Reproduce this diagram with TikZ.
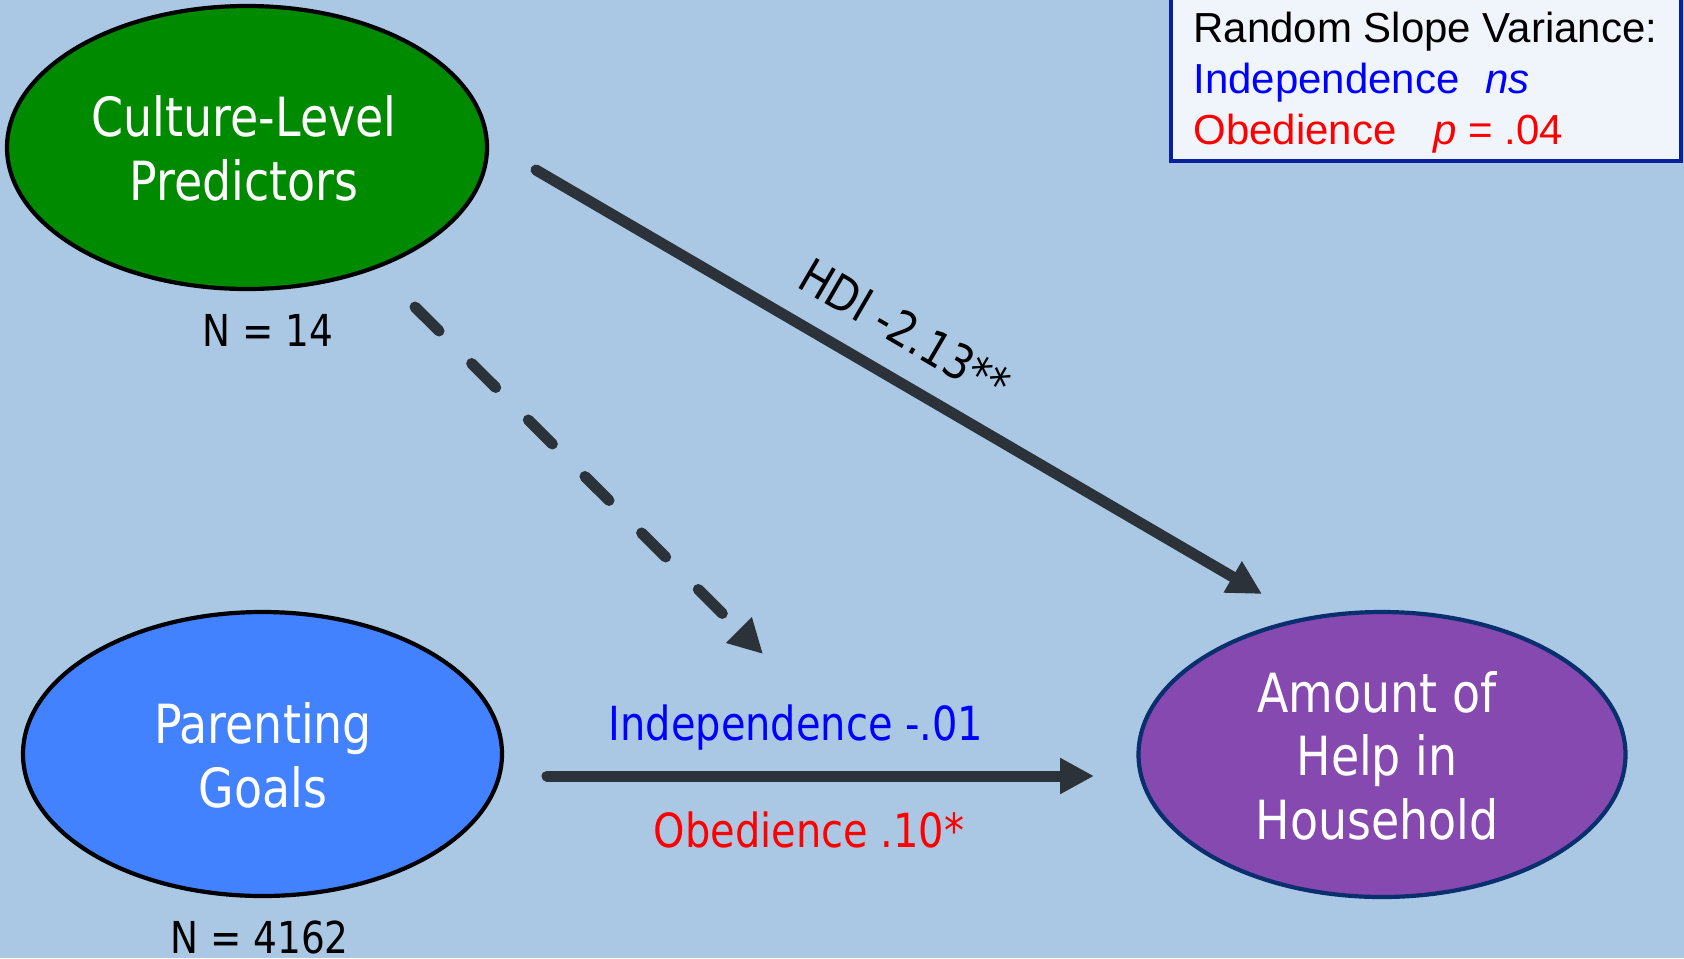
\documentclass[tikz,border=0pt]{standalone}
\usepackage{fontspec}
\usetikzlibrary{shapes.geometric,arrows.meta}
\newfontfamily\tahfont[FakeStretch=0.85]{DejaVu Sans}
\newfontfamily\arialfont{Liberation Sans}
\definecolor{bgblue}{HTML}{AAC8E4}
\definecolor{cgreen}{HTML}{008A00}
\definecolor{cblue}{HTML}{4281FF}
\definecolor{cpurple}{HTML}{8549AF}
\definecolor{cnavy}{HTML}{0A2F6F}
\definecolor{boxline}{HTML}{0A209E}
\definecolor{boxfill}{HTML}{EFF5FA}
\definecolor{arrowgray}{HTML}{2B3239}
\definecolor{lblue}{HTML}{0000FF}
\definecolor{lred}{HTML}{FF0000}
\begin{document}
\begin{tikzpicture}[x=0.5pt,y=-0.5pt,
  bubble/.style={ellipse,inner sep=0pt,line width=2.1pt},
  bubtext/.style={font=\tahfont\fontsize{27pt}{31.75pt}\selectfont,text=white,align=center,inner sep=0pt,anchor=base},
  ntext/.style={font=\tahfont\fontsize{22pt}{26pt}\selectfont,text=black,inner sep=0pt,anchor=base},
  pathlbl/.style={font=\tahfont\fontsize{23.5pt}{28pt}\selectfont,inner sep=0pt,anchor=base},
  boxtext/.style={font=\arialfont\fontsize{21pt}{25pt}\selectfont,inner sep=0pt,anchor=base west},
  conn/.style={line width=5.5pt,draw=arrowgray,line cap=round,-{Triangle[length=17pt,width=17pt]}}]
\useasboundingbox[fill=bgblue] (0,0) rectangle (1684,958);
% ellipses
\node[bubble,draw=black,fill=cgreen,minimum width=240pt,minimum height=141.5pt] (culture) at (247,147.5) {};
\node[bubble,draw=black,fill=cblue,minimum width=239.5pt,minimum height=142pt] (goals) at (262.5,754) {};
\node[bubble,draw=cnavy,fill=cpurple,minimum width=243.5pt,minimum height=142.5pt] (help) at (1382,754.5) {};
% ellipse texts (anchor = baseline of the last line)
\node[bubtext] (culturet) at (244,200) {Culture-Level\\Predictors};
\node[bubtext] (goalst) at (263,807) {Parenting\\Goals};
\node[bubtext] (helpt) at (1377,839) {Amount of\\Help in\\Household};
% N labels
\node[ntext] (n14) at (268,346) {N = 14};
\node[ntext] (n4162) at (259.5,953) {N = 4162};
% legend box
\node[draw=boxline,line width=1.75pt,fill=boxfill,rectangle,minimum width=255pt,minimum height=85.5pt,inner sep=0pt] (legend) at (1426,75.5) {};
\node[boxtext,text=black] (leg1) at (1193,42) {Random Slope Variance:};
\node[boxtext,text=lblue] (leg2) at (1193,93) {Independence};
\node[boxtext,text=lblue] (leg2b) at (1485,93) {\itshape ns};
\node[boxtext,text=lred] (leg3) at (1193,144) {Obedience};
\node[boxtext,text=lred] (leg3b) at (1433,144) {\textit{p} = .04};
% connector end points
\coordinate (s1) at (536,170);
\coordinate (e1) at (1262,594);
\coordinate (s2) at (415,307);
\coordinate (e2) at (763,654);
\coordinate (s3) at (547,776);
\coordinate (e3) at (1094,776);
% connectors
\draw[conn] (s1) -- (e1);
\draw[conn,dash pattern=on 17pt off 23pt] (s2) -- (e2);
\draw[conn] (s3) -- (e3);
% path labels
\node[font=\tahfont\fontsize{24pt}{28pt}\selectfont,inner sep=0pt,rotate=-30.3] (hdi) at (905,330) {HDI -2.13**};
\node[pathlbl,text=lblue] (indep) at (796,740) {Independence -.01};
\node[pathlbl,text=lred] (obed) at (809,847) {Obedience .10*};
\end{tikzpicture}
\end{document}
